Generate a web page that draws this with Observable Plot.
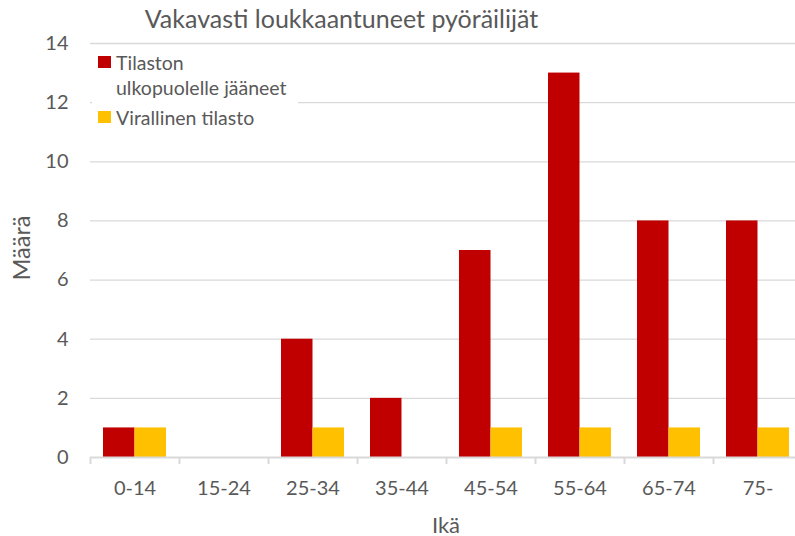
<!DOCTYPE html>
<html><head><meta charset="utf-8">
<script src="https://cdn.jsdelivr.net/npm/d3@7"></script>
<script src="https://cdn.jsdelivr.net/npm/@observablehq/plot@0.6"></script>
<style>
body{margin:0;overflow:hidden;background:#fff;font-family:Lato,sans-serif;color:#595959}
#wrap{position:relative;width:795px;height:536px;overflow:hidden}
#chart{position:absolute;left:0;top:0;width:802px}
.abs{position:absolute;white-space:nowrap}
#title{left:0;width:683px;text-align:center;top:3px;font-size:25px}
#ylab{left:21px;top:248px;font-size:23.5px;transform:translate(-50%,-50%) rotate(-90deg)}
#xlab{left:446px;top:524px;font-size:22px;transform:translate(-50%,-50%)}
#legend{left:92px;top:48px;width:206px;height:82px;background:#fff;font-size:19.5px;line-height:25px}
.item{position:absolute;left:6px}
.sw{position:absolute;left:0;top:6px;width:13px;height:12px}
.txt{position:absolute;left:18px;top:0}
</style></head>
<body>
<div id="wrap">
  <div id="chart"></div>
  <div id="legend" class="abs"></div>
  <div id="title" class="abs"></div>
  <div id="ylab" class="abs"></div>
  <div id="xlab" class="abs"></div>
</div>
<script>
const titleText = "Vakavasti loukkaantuneet pyöräilijät";
const yTitle = "Määrä";
const xTitle = "Ikä";
const categories = ["0-14","15-24","25-34","35-44","45-54","55-64","65-74","75-"];
const seriesNames = ["Tilaston ulkopuolelle jääneet","Virallinen tilasto"];
const legendLines = [["Tilaston","ulkopuolelle jääneet"],["Virallinen tilasto"]];
const seriesColors = ["#c00000","#ffc000"];
const unofficialValues = [1,0,4,2,7,13,8,8];
const officialValues = [1,0,1,0,1,1,1,1];
const yTicks = [0,2,4,6,8,10,12,14];

const rows = categories.flatMap((c,i)=>[
  {age:c, series:seriesNames[0], value:unofficialValues[i]},
  {age:c, series:seriesNames[1], value:officialValues[i]}
]);

const plot = Plot.plot({
  width: 802, height: 536,
  marginLeft: 90, marginRight: 0, marginTop: 43, marginBottom: 79,
  style:{fontFamily:"Lato, sans-serif", color:"#595959", background:"#fff", maxWidth:"none"},
  x:{domain:categories, padding:0, axis:null, label:null},
  y:{domain:[0,14], ticks:yTicks, axis:null, label:null},
  color:{domain:seriesNames, range:seriesColors},
  marks:[
    Plot.ruleY(yTicks.filter(d=>d>0), {stroke:"#d9d9d9", strokeWidth:1.3}),
    Plot.barY(rows.filter(d=>d.series===seriesNames[0] && d.value>0), {x:"age", y:"value", fill:"series", insetLeft:13, insetRight:44.5}),
    Plot.barY(rows.filter(d=>d.series===seriesNames[1] && d.value>0), {x:"age", y:"value", fill:"series", insetLeft:44.5, insetRight:13}),
    Plot.ruleY([0], {stroke:"#d9d9d9", strokeWidth:2}),
    Plot.ruleX(categories, {x:d=>d, y1:0, y2:-0.24, stroke:"#d9d9d9", strokeWidth:2, dx:-44.5}),
    Plot.axisX({tickSize:0, tickPadding:23, fontSize:20, label:null}),
    Plot.axisY({ticks:yTicks, tickSize:0, tickPadding:22, fontSize:20, label:null})
  ]
});
plot.style.maxWidth = "none";
document.getElementById("chart").appendChild(plot);
document.getElementById("title").textContent = titleText;
document.getElementById("ylab").textContent = yTitle;
document.getElementById("xlab").textContent = xTitle;
const lg = document.getElementById("legend");
const tops = [2, 57];
legendLines.forEach((lines,i)=>{
  const d=document.createElement("div"); d.className="item"; d.style.top=tops[i]+"px";
  const sw=document.createElement("div"); sw.className="sw"; sw.style.background=seriesColors[i];
  const tx=document.createElement("div"); tx.className="txt"; tx.innerHTML=lines.join("<br>");
  d.appendChild(sw); d.appendChild(tx); lg.appendChild(d);
});
</script>
</body></html>
